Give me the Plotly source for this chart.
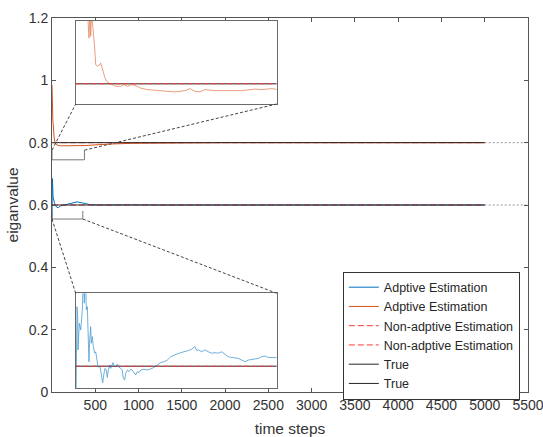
import plotly.graph_objects as go

# ---------------- data ----------------
# main series (time step, eigenvalue)
t_orange = [0, 3, 6, 10, 14, 18, 25, 35, 42, 60, 100, 173, 250, 300, 404, 500, 600, 711, 942,
            1200, 1600, 2000, 2500, 3000, 3500, 4000, 4500, 5000]
v_orange = [0.985, 0.90, 0.95, 0.87, 0.86, 0.83, 0.815, 0.80, 0.796, 0.792, 0.790, 0.790, 0.790,
            0.791, 0.791, 0.793, 0.795, 0.796, 0.798, 0.799, 0.7995, 0.800, 0.800, 0.800, 0.800,
            0.800, 0.800, 0.800]
t_blue = [0, 2, 4, 6, 8, 12, 18, 30, 42, 58, 77, 96, 115, 173, 231, 289, 346, 404, 442, 558, 700,
          900, 1200, 1600, 2000, 2500, 3000, 4000, 5000]
v_blue = [0.549, 0.62, 0.685, 0.64, 0.66, 0.626, 0.616, 0.605, 0.598, 0.592, 0.592, 0.597, 0.598,
          0.602, 0.608, 0.610, 0.607, 0.604, 0.601, 0.600, 0.601, 0.6005, 0.600, 0.6005, 0.5998,
          0.6002, 0.600, 0.600, 0.600]
true_vals = [0.8, 0.6]
t_span = [0, 5000]
t_tail = [5000, 5500]

# inset 1 (orange, zoom near 0.8)
t_in1 = [23.1, 26.5, 28.5, 29.8, 31.8, 33.1, 35.1, 37.8, 39.8, 43, 48.4, 49.8, 51.7, 55, 58.3, 61.7,
         66.3, 72.8, 79.6, 89.6, 96.1, 102.7, 112.6, 122.6, 129.4, 142.5, 162.4, 182.3, 195.6,
         207.6, 217.5, 227.5, 237.4, 247.4, 257.3, 277.2, 297.1, 317, 330.3, 356.8, 370.1, 390, 400]
v_in1 = [0.83, 0.8181, 0.83, 0.8188, 0.83, 0.8248, 0.8208, 0.8142, 0.8076, 0.8069, 0.8076, 0.8082,
         0.8069, 0.8043, 0.8023, 0.8010, 0.8003, 0.7997, 0.7990, 0.7990, 0.7997, 0.7990, 0.7997,
         0.7990, 0.7983, 0.7977, 0.7973, 0.7968, 0.7968, 0.7970, 0.7973, 0.7981, 0.7970, 0.7968,
         0.7977, 0.7973, 0.7973, 0.7975, 0.7973, 0.7979, 0.7977, 0.7981, 0.7978]

# inset 2 (blue, zoom near 0.6)
t_in2 = [0.6, 2.6, 4.0, 4.6, 7.2, 10, 13.2, 15.2, 17.2, 19.2, 21.2, 23.2, 24.5, 25.8, 26.5, 27.8,
         29.8, 31, 33, 35, 37.8, 39.8, 41.8, 44.4, 48.4, 51, 53.7, 56.3, 58.3, 60.9, 62.9, 64.9,
         67.7, 69.7, 71.6, 74.2, 76.2, 79.6, 82.8, 86.2, 89.6, 92.7, 94.7, 97.5, 99.5, 102.7,
         106.1, 109.5, 112.6, 116, 119.4, 122.6, 126, 129.4, 135.9, 142.5, 152.4, 162.4, 169.1,
         175.7, 182.3, 189, 195.6, 202.2, 209, 217.5, 224.1, 230.8, 237.4, 240.8, 244, 250.7,
         257.3, 263.9, 270.6, 277.2, 283.8, 290.5, 297.1, 303.7, 310.4, 317, 323.6, 330.3, 336.9,
         343.5, 350.2, 356.8, 363.4, 370.1, 376.7, 383.3, 396.6, 402]
v_in2 = [0.585, 0.6251, 0.6209, 0.6069, 0.6181, 0.6153, 0.6238, 0.64, 0.6266, 0.64, 0.6238, 0.6251,
         0.6153, 0.6040, 0.6019, 0.6111, 0.6167, 0.6097, 0.6125, 0.6083, 0.6055, 0.6061, 0.6040,
         0.5998, 0.5998, 0.5956, 0.5930, 0.5970, 0.5991, 0.5984, 0.5953, 0.5984, 0.6005, 0.5991,
         0.6005, 0.6015, 0.6001, 0.5998, 0.6009, 0.5996, 0.5991, 0.5984, 0.5949, 0.5942, 0.5970,
         0.5984, 0.5977, 0.5987, 0.5984, 0.5973, 0.5963, 0.5977, 0.5973, 0.5984, 0.5987, 0.5984,
         0.5991, 0.6005, 0.6015, 0.6019, 0.6026, 0.6040, 0.6047, 0.6052, 0.6057, 0.6061, 0.6066,
         0.6072, 0.6083, 0.6066, 0.6069, 0.6061, 0.6069, 0.6061, 0.6055, 0.6057, 0.6055, 0.6061,
         0.6052, 0.6040, 0.6037, 0.6036, 0.6033, 0.6026, 0.6019, 0.6026, 0.6029, 0.6033, 0.6033,
         0.6040, 0.6043, 0.6037, 0.6036, 0.6036]
t_inset = [0, 400]

x_ticks = [500, 1000, 1500, 2000, 2500, 3000, 3500, 4000, 4500, 5000, 5500]
y_ticks = [0, 0.2, 0.4, 0.6, 0.8, 1.0, 1.2]
y_ticklabels = ["0", "0.2", "0.4", "0.6", "0.8", "1", "1.2"]

# zoom boxes in main axes (t0, t1, v0, v1)
zoom1 = (0, 375, 0.745, 0.776)
zoom2 = (0, 356, 0.555, 0.581)

# ---------------- style ----------------
BLUE = "#0072BD"
ORANGE = "#D95319"
RED = "#FF3A3A"
BLACK = "#262626"
AX = "#555555"
FONT = "Liberation Sans, Arial, sans-serif"

W, H = 543, 437
ML, MR, MT, MB = 52, 15, 18, 45
XR = [0, 5500]
YR = [0, 1.2]
in1_dom_x = [0.0498, 0.472]
in1_dom_y = [0.770, 0.993]
in2_dom_x = [0.0498, 0.472]
in2_dom_y = [0.0107, 0.264]
in1_yr = [0.792, 0.825]
in2_yr = [0.5908, 0.6308]

fig = go.Figure()

# main traces (legend order)
fig.add_trace(go.Scatter(x=t_blue, y=v_blue, mode="lines", name="Adptive Estimation",
                         line=dict(color=BLUE, width=1)))
fig.add_trace(go.Scatter(x=t_orange, y=v_orange, mode="lines", name="Adptive Estimation",
                         line=dict(color=ORANGE, width=1)))
for v in true_vals:
    fig.add_trace(go.Scatter(x=t_span, y=[v, v], mode="lines", name="Non-adptive Estimation",
                             line=dict(color=RED, width=1, dash="6px,3px")))
for v in true_vals:
    fig.add_trace(go.Scatter(x=t_span, y=[v, v], mode="lines", name="True",
                             line=dict(color=BLACK, width=1)))
for v in true_vals:
    fig.add_trace(go.Scatter(x=t_tail, y=[v, v], mode="lines", showlegend=False, hoverinfo="skip",
                             line=dict(color="#9a9a9a", width=1, dash="2px,2px")))

# inset 1
fig.add_trace(go.Scatter(x=t_inset, y=[true_vals[0]] * 2, mode="lines", showlegend=False,
                         line=dict(color=BLACK, width=1), xaxis="x2", yaxis="y2"))
fig.add_trace(go.Scatter(x=t_inset, y=[true_vals[0]] * 2, mode="lines", showlegend=False,
                         line=dict(color=RED, width=1, dash="5px,3px"), xaxis="x2", yaxis="y2"))
fig.add_trace(go.Scatter(x=t_in1, y=v_in1, mode="lines", showlegend=False,
                         line=dict(color=ORANGE, width=0.8), opacity=0.7, xaxis="x2", yaxis="y2"))
# inset 2
fig.add_trace(go.Scatter(x=t_inset, y=[true_vals[1]] * 2, mode="lines", showlegend=False,
                         line=dict(color=BLACK, width=1), xaxis="x3", yaxis="y3"))
fig.add_trace(go.Scatter(x=t_inset, y=[true_vals[1]] * 2, mode="lines", showlegend=False,
                         line=dict(color=RED, width=1, dash="5px,3px"), xaxis="x3", yaxis="y3"))
fig.add_trace(go.Scatter(x=t_in2, y=v_in2, mode="lines", showlegend=False,
                         line=dict(color=BLUE, width=0.8), opacity=0.7, xaxis="x3", yaxis="y3"))


def dom_to_data(dom, rng):
    return [rng[0] + d * (rng[1] - rng[0]) for d in dom]


shapes = []
RECT = dict(color="#7a7a7a", width=1)
CONN = dict(color="#444444", width=1, dash="3px,2px")
# zoom box 1 + connectors (top corners -> inset 1 bottom corners)
t0, t1, v0, v1 = zoom1
shapes.append(dict(type="path", xref="x", yref="y", line=RECT,
                   path=f"M {t0} {v1} L {t0} {v0} L {t1} {v0} L {t1} {v1}"))
ix = dom_to_data(in1_dom_x, XR)
iy = dom_to_data(in1_dom_y, YR)
shapes.append(dict(type="line", xref="x", yref="y", x0=t0, y0=v1, x1=ix[0], y1=iy[0], line=CONN))
shapes.append(dict(type="line", xref="x", yref="y", x0=t1, y0=v1, x1=ix[1], y1=iy[0], line=CONN))
# zoom box 2 + connectors (bottom corners -> inset 2 top corners)
t0, t1, v0, v1 = zoom2
shapes.append(dict(type="path", xref="x", yref="y", line=RECT,
                   path=f"M {t0} {v1} L {t0} {v0} L {t1} {v0} L {t1} {v1}"))
ix = dom_to_data(in2_dom_x, XR)
iy = dom_to_data(in2_dom_y, YR)
shapes.append(dict(type="line", xref="x", yref="y", x0=t0, y0=v0, x1=ix[0], y1=iy[1], line=CONN))
shapes.append(dict(type="line", xref="x", yref="y", x0=t1, y0=v0, x1=ix[1], y1=iy[1], line=CONN))

tickfont = dict(family=FONT, size=14, color="#333333")
inset_axis = dict(showline=True, linecolor="#6a6a6a", linewidth=1, mirror=True, showgrid=False,
                  zeroline=False, showticklabels=False, ticks="", automargin=False)

fig.update_layout(
    template="none",
    width=W, height=H, autosize=False,
    margin=dict(l=ML, r=MR, t=MT, b=MB, pad=0),
    paper_bgcolor="white", plot_bgcolor="white",
    font=dict(family=FONT, color="#262626"),
    shapes=shapes,
    xaxis=dict(range=XR, tickvals=x_ticks, ticks="inside", ticklen=4, tickcolor=AX,
               showline=True, linecolor=AX, linewidth=1, mirror="ticks", showgrid=False,
               zeroline=False, tickfont=tickfont, automargin=False, ticklabeloverflow="allow",
               title=dict(text="time steps", font=dict(family=FONT, size=15.5, color="#333333"),
                          standoff=12)),
    yaxis=dict(range=YR, tickvals=y_ticks, ticktext=y_ticklabels, ticks="inside", ticklen=4,
               tickcolor=AX, showline=True, linecolor=AX, linewidth=1, mirror="ticks",
               showgrid=False, zeroline=False, tickfont=tickfont, automargin=False,
               ticklabeloverflow="allow",
               title=dict(text="eiganvalue", font=dict(family=FONT, size=15.5, color="#333333"),
                          standoff=6)),
    xaxis2=dict(domain=in1_dom_x, range=t_inset, anchor="y2", **inset_axis),
    yaxis2=dict(domain=in1_dom_y, range=in1_yr, anchor="x2", **inset_axis),
    xaxis3=dict(domain=in2_dom_x, range=t_inset, anchor="y3", **inset_axis),
    yaxis3=dict(domain=in2_dom_y, range=in2_yr, anchor="x3", **inset_axis),
    legend=dict(x=0.611, y=0.322, xanchor="left", yanchor="top", bgcolor="white",
                bordercolor="#333333", borderwidth=1,
                font=dict(family=FONT, size=12.5, color="#262626"),
                itemwidth=30, tracegroupgap=0),
    showlegend=True,
)

fig.write_html("out.html")
